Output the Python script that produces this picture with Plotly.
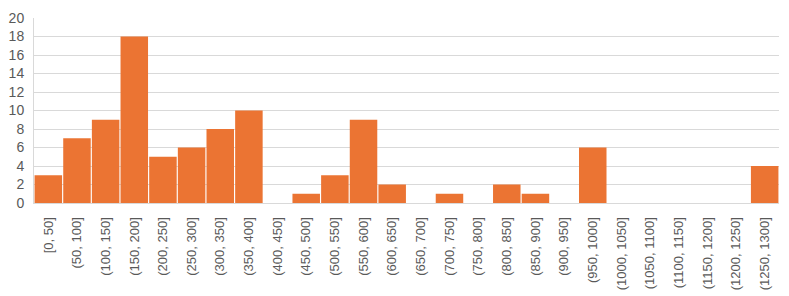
import plotly.graph_objects as go

categories = ["[0, 50]", "(50, 100]", "(100, 150]", "(150, 200]", "(200, 250]", "(250, 300]",
              "(300, 350]", "(350, 400]", "(400, 450]", "(450, 500]", "(500, 550]", "(550, 600]",
              "(600, 650]", "(650, 700]", "(700, 750]", "(750, 800]", "(800, 850]", "(850, 900]",
              "(900, 950]", "(950, 1000]", "(1000, 1050]", "(1050, 1100]", "(1100, 1150]",
              "(1150, 1200]", "(1200, 1250]", "(1250, 1300]"]
counts = [3, 7, 9, 18, 5, 6, 8, 10, 0, 1, 3, 9, 2, 0, 1, 0, 2, 1, 0, 6, 0, 0, 0, 0, 0, 4]
y_ticks = list(range(0, 21, 2))

fig = go.Figure(go.Bar(x=categories, y=counts, marker=dict(color="#EB7433", line=dict(width=0))))

fig.update_layout(
    width=789, height=296,
    margin=dict(l=34, r=10, t=18, b=93, autoexpand=False),
    paper_bgcolor="white", plot_bgcolor="white",
    bargap=0.04,
    showlegend=False,
    font=dict(family="Liberation Sans, Arial, sans-serif", size=14, color="#595959"),
)
fig.update_xaxes(
    type="category", tickangle=-90, showgrid=False, showline=True, linecolor="#D9D9D9",
    linewidth=1, ticks="", tickfont=dict(size=13, color="#595959"), ticklabelstandoff=8,
    automargin=False,
)
fig.update_yaxes(
    range=[0, 20], tickvals=y_ticks, showgrid=True, gridcolor="#D9D9D9", gridwidth=1,
    showline=True, linecolor="#D9D9D9", zeroline=False, ticks="",
    tickfont=dict(size=14, color="#595959"), ticklabelstandoff=6, automargin=False,
)
fig.write_html("out.html")
